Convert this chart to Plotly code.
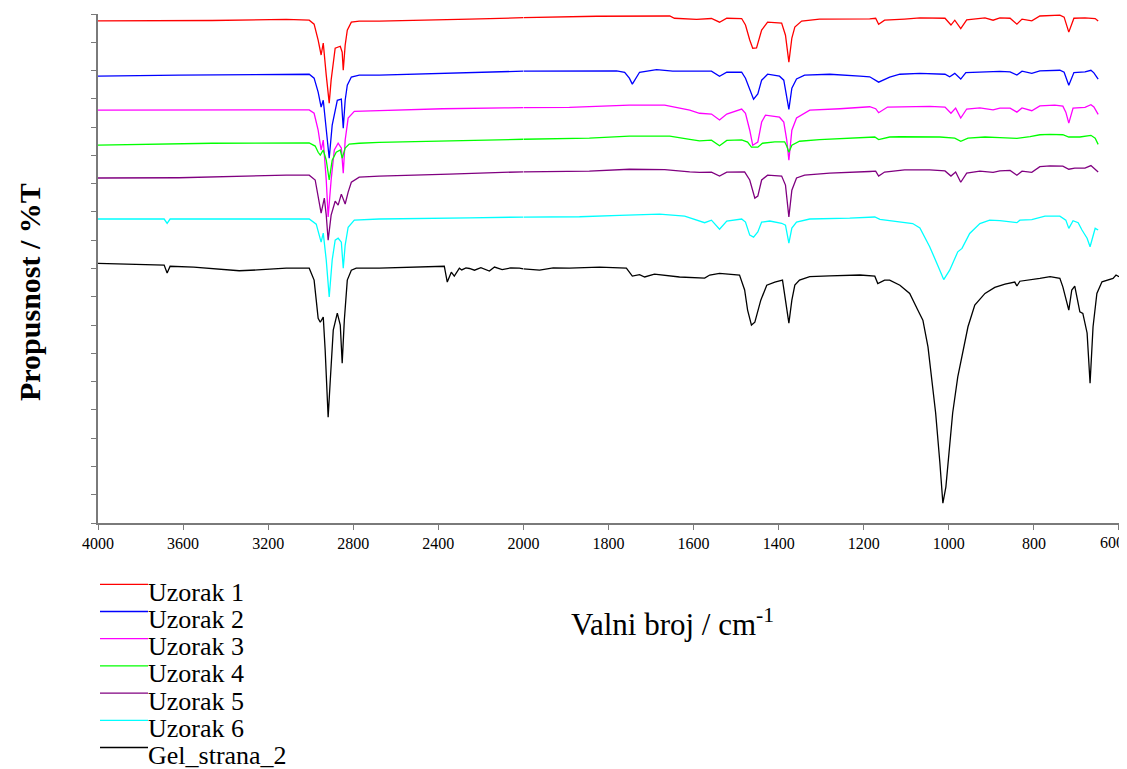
import plotly.graph_objects as go

# ---------------- data (wavenumber cm^-1, offset transmittance) ----------------
names = ["Uzorak 1", "Uzorak 2", "Uzorak 3", "Uzorak 4", "Uzorak 5", "Uzorak 6", "Gel_strana_2"]
colors = ["#FF0000", "#0000FF", "#FF00FF", "#00FF00", "#800080", "#00FFFF", "#000000"]

uzorak_1 = [(4000,177.6),(3619,177.7),(3464,177.7),(3115,178.1),(3007,177.8),(2984,176.4),(2965,170.8),(2951,165.5),(2941,169.7),(2927,158.4),(2913,148.5),(2904,156.6),(2885,167.9),(2861,168.6),(2852,166.5),(2847,160.1),(2838,169.0),(2828,174.3),(2809,177.1),(2772,177.5),(2678,177.5),(2254,178.2),(2000,178.7),(1828,179.2),(1656,179.3),(1645,178.5),(1593,178.1),(1558,178.4),(1539,177.1),(1522,178.5),(1487,178.4),(1478,176.1),(1468,170.8),(1461,167.9),(1452,168.0),(1449,169.7),(1440,174.3),(1426,177.1),(1393,176.8),(1384,172.5),(1376,163.0),(1369,171.5),(1362,175.4),(1346,177.5),(1304,178.2),(1186,178.3),(1172,178.5),(1165,176.4),(1151,177.8),(1104,178.2),(1068,178.6),(1009,178.5),(995,176.1),(986,177.8),(972,174.8),(958,177.9),(915,178.6),(896,177.8),(880,178.6),(856,178.5),(840,176.4),(828,178.2),(805,177.6),(786,179.3),(739,179.6),(729,178.9),(718,173.6),(706,178.5),(680,178.6),(656,178.4),(649,177.5)]

uzorak_2 = [(4000,158.0),(3619,158.4),(3007,158.7),(2984,157.3),(2965,152.4),(2951,147.1),(2941,149.5),(2927,138.9),(2913,129.0),(2899,140.7),(2875,149.5),(2856,149.9),(2847,139.6),(2838,149.5),(2828,154.8),(2809,157.7),(2772,158.4),(2678,158.4),(2113,159.5),(2000,159.8),(1908,159.9),(1781,159.9),(1762,159.4),(1751,157.3),(1744,155.2),(1736,157.3),(1727,159.4),(1687,160.3),(1649,159.8),(1558,159.8),(1539,158.0),(1522,159.4),(1487,159.4),(1478,157.3),(1468,153.1),(1459,149.9),(1449,151.7),(1440,156.6),(1426,158.7),(1398,158.0),(1388,156.6),(1381,151.3),(1376,146.3),(1369,153.8),(1358,157.0),(1339,158.4),(1280,158.7),(1209,158.0),(1186,157.8),(1165,155.9),(1139,157.7),(1115,158.7),(1068,159.0),(1009,158.7),(998,157.8),(986,159.0),(972,157.0),(960,159.3),(927,159.4),(896,159.4),(880,159.7),(856,159.5),(840,158.4),(828,159.8),(805,159.0),(786,159.9),(739,160.1),(729,159.4),(718,154.8),(706,159.3),(680,159.5),(666,160.1),(659,159.2),(649,157.0)]

uzorak_3 = [(4000,146.0),(3007,146.1),(2984,144.9),(2965,138.9),(2951,131.9),(2941,135.4),(2927,121.3),(2918,108.2),(2904,121.3),(2889,131.9),(2871,134.3),(2856,132.6),(2847,123.7),(2838,135.4),(2824,143.2),(2795,145.6),(2678,145.8),(2381,146.5),(2089,146.8),(2000,146.9),(1892,147.0),(1798,147.5),(1751,147.8),(1668,147.8),(1609,146.0),(1586,144.9),(1558,144.6),(1539,142.5),(1522,144.6),(1487,146.4),(1478,144.9),(1468,138.9),(1461,133.6),(1449,134.7),(1440,141.8),(1431,144.2),(1398,143.5),(1388,141.8),(1381,135.4),(1376,128.3),(1369,138.9),(1358,143.2),(1327,146.0),(1256,146.5),(1186,147.2),(1172,146.5),(1165,145.1),(1144,147.1),(1115,147.2),(1045,147.3),(1009,147.1),(995,144.9),(984,146.7),(972,143.2),(958,146.4),(927,146.8),(896,146.1),(880,146.7),(856,146.7),(840,145.3),(828,146.8),(805,145.8),(786,147.5),(751,147.8),(732,147.4),(725,145.3),(718,141.4),(708,146.7),(680,147.0),(666,147.9),(659,147.1),(649,144.5)]

uzorak_4 = [(4000,133.6),(3464,134.3),(3007,134.4),(2979,133.3),(2965,131.1),(2955,130.1),(2941,131.9),(2927,128.3),(2913,121.3),(2899,128.3),(2880,131.1),(2861,131.9),(2852,129.0),(2838,132.6),(2819,134.0),(2772,134.3),(2678,134.6),(2442,135.0),(2113,135.6),(2000,135.7),(1845,136.1),(1751,136.8),(1656,136.8),(1609,135.7),(1586,135.1),(1558,135.4),(1539,133.4),(1522,135.3),(1487,135.5),(1473,134.7),(1464,132.9),(1449,132.9),(1438,134.3),(1409,134.8),(1386,134.8),(1381,133.3),(1376,131.1),(1369,133.6),(1351,135.0),(1304,135.6),(1233,136.1),(1174,136.5),(1165,135.6),(1139,136.5),(1115,136.6),(1021,136.5),(986,136.1),(972,135.0),(955,136.1),(915,136.5),(880,136.3),(840,136.0),(809,136.6),(786,137.3),(762,137.4),(732,137.3),(718,136.5),(692,136.5),(666,137.1),(656,136.1),(649,133.9)]

uzorak_5 = [(4000,122.0),(3619,122.1),(3115,123.0),(3007,123.0),(2979,121.3),(2965,115.9),(2951,109.6),(2936,114.9),(2927,108.9),(2918,100.0),(2904,108.9),(2885,113.8),(2871,112.4),(2856,116.3),(2838,112.8),(2824,117.0),(2809,120.5),(2772,122.3),(2678,122.7),(2348,123.4),(2000,124.2),(1845,124.4),(1751,125.1),(1668,125.0),(1609,124.2),(1586,124.0),(1558,124.1),(1539,122.7),(1522,124.1),(1480,124.2),(1468,121.3),(1456,114.9),(1449,115.6),(1440,121.3),(1426,123.0),(1393,122.7),(1384,119.5),(1376,108.2),(1369,117.7),(1358,122.0),(1339,123.0),(1280,123.7),(1186,124.3),(1172,124.4),(1165,122.7),(1151,124.1),(1104,124.9),(1045,124.9),(1009,124.5),(995,122.7),(984,124.1),(972,120.5),(958,123.7),(927,124.4),(896,124.0),(880,124.5),(856,124.7),(840,123.0),(828,124.4),(805,124.0),(786,126.0),(762,126.3),(732,126.2),(718,125.1),(704,125.5),(680,125.5),(666,126.4),(659,125.5),(649,124.1)]

uzorak_6 = [(4000,107.5),(3689,107.5),(3675,106.0),(3661,107.5),(3007,107.5),(2974,105.7),(2960,101.8),(2951,99.3),(2941,102.5),(2927,93.0),(2913,79.9),(2899,93.0),(2885,100.0),(2871,100.7),(2856,99.3),(2847,90.1),(2838,98.3),(2824,104.6),(2795,107.1),(2678,107.5),(2254,107.9),(2000,108.2),(1868,108.3),(1774,108.8),(1680,109.2),(1621,108.5),(1586,106.8),(1574,106.2),(1558,107.1),(1539,103.9),(1522,106.8),(1487,107.5),(1478,106.4),(1468,101.8),(1459,101.1),(1449,102.9),(1440,106.4),(1421,106.8),(1393,106.0),(1384,105.3),(1376,99.0),(1369,104.3),(1358,106.4),(1327,107.5),(1233,107.8),(1174,108.2),(1162,107.4),(1115,106.5),(1085,105.9),(1068,104.3),(1045,97.7),(1028,91.8),(1012,86.1),(998,89.4),(979,95.9),(969,97.1),(951,102.4),(927,105.9),(904,107.1),(880,106.9),(840,106.2),(833,107.1),(805,107.3),(774,108.5),(739,108.5),(725,107.1),(718,104.2),(708,106.9),(696,106.2),(687,103.6),(675,100.7),(668,97.7),(661,101.8),(656,104.2),(649,103.6)]

gel_strana_2 = [(4000,91.8),(3807,91.5),(3689,91.2),(3675,88.4),(3661,90.8),(3550,90.5),(3464,90.0),(3400,89.6),(3336,89.2),(3250,89.5),(3170,89.9),(3115,90.1),(3007,90.1),(2984,85.9),(2974,78.8),(2965,72.4),(2955,71.0),(2941,72.8),(2932,61.1),(2918,37.4),(2908,50.5),(2894,68.2),(2875,74.2),(2861,70.0),(2852,56.5),(2842,71.7),(2828,85.9),(2809,89.4),(2786,90.1),(2678,90.1),(2372,90.8),(2358,85.2),(2339,88.7),(2325,87.3),(2301,90.1),(2290,89.5),(2270,90.2),(2254,90.0),(2230,89.4),(2200,90.3),(2160,89.1),(2136,90.5),(2100,89.6),(2060,90.2),(2019,90.1),(2000,89.9),(1962,89.4),(1930,90.2),(1892,90.1),(1821,90.5),(1758,90.1),(1744,87.3),(1727,87.8),(1715,87.0),(1692,88.0),(1633,87.0),(1574,86.6),(1562,87.7),(1539,88.3),(1492,87.7),(1480,82.4),(1473,75.3),(1464,70.0),(1456,71.0),(1449,75.3),(1442,78.8),(1428,84.1),(1409,85.2),(1391,85.9),(1384,78.8),(1376,70.7),(1369,78.8),(1362,84.1),(1351,85.9),(1327,87.1),(1280,87.4),(1209,87.7),(1174,87.3),(1167,84.7),(1151,85.9),(1139,85.9),(1115,84.1),(1092,81.2),(1073,75.3),(1061,71.7),(1049,62.3),(1040,50.5),(1031,38.9),(1021,21.2),(1014,7.0),(1007,12.7),(1000,24.7),(991,38.9),(979,51.7),(967,60.1),(955,69.4),(939,77.1),(915,81.2),(892,83.3),(868,84.5),(845,85.2),(840,83.8),(833,85.5),(809,85.9),(786,86.5),(762,87.1),(739,86.5),(732,83.5),(725,78.8),(718,75.3),(711,82.4),(704,83.8),(692,74.7),(685,74.1),(675,67.2),(668,49.4),(661,69.4),(652,81.2),(640,85.3),(626,85.9),(614,86.5),(607,87.7),(600,87.1)]

series = [uzorak_1, uzorak_2, uzorak_3, uzorak_4, uzorak_5, uzorak_6, gel_strana_2]

ticks_high = [4000, 3600, 3200, 2800, 2400]
ticks_low = [2000, 1800, 1600, 1400, 1200, 1000, 800, 600]
x_title = "Valni broj / cm<sup>-1</sup>"
y_title = "<b>Propusnost / %T</b>"

# ---------------- figure ----------------
SERIF = "Liberation Serif, Times New Roman, serif"
AXCOL = "#7a7a7a"
fig = go.Figure()

for name, col, data in zip(names, colors, series):
    hi = [p for p in data if p[0] >= 2000]
    lo = [p for p in data if p[0] <= 2000]
    for part, xa in ((hi, "x"), (lo, "x2")):
        fig.add_trace(go.Scatter(
            x=[p[0] for p in part], y=[p[1] for p in part],
            mode="lines", name=name, legendgroup=name, showlegend=False,
            line=dict(color=col, width=1.3), xaxis=xa, yaxis="y"))

split = 5 / 12
common_x = dict(showline=True, linecolor=AXCOL, linewidth=1.5, ticks="outside",
                ticklen=5, tickcolor=AXCOL, tickwidth=1.2, showgrid=False,
                zeroline=False, anchor="y", automargin=False,
                tickfont=dict(family=SERIF, size=16, color="black"))
# the last label (600) sits at the window edge: it is drawn separately, nudged left
low_text = [str(t) for t in ticks_low[:-1]] + [""]

# The page body has an 8px margin, so the figure is sized to the rest of the window.
fig.update_layout(
    width=1119, height=761,
    margin=dict(l=90, r=8, t=6, b=246),
    plot_bgcolor="white", paper_bgcolor="white", showlegend=False,
    xaxis=dict(domain=[0, split], range=[4000, 2000], tickmode="array",
               tickvals=ticks_high, ticktext=[str(t) for t in ticks_high], **common_x),
    xaxis2=dict(domain=[split, 1], range=[2000, 600], tickmode="array",
                tickvals=ticks_low, ticktext=low_text, **common_x),
    yaxis=dict(range=[0, 180], tick0=0, dtick=10, showticklabels=False,
               ticks="outside", ticklen=5, tickcolor=AXCOL, tickwidth=1.2,
               showline=True, linecolor=AXCOL, linewidth=1.5, showgrid=False,
               zeroline=False, anchor="x", automargin=False),
)

# positions below in window pixels, converted to paper coordinates
PLOT_L, PLOT_W, PLOT_B, PLOT_H = 98, 1021, 523, 509
def px_x(px):
    return (px - PLOT_L) / PLOT_W
def px_y(py):
    return (PLOT_B - py) / PLOT_H

fig.add_annotation(text=str(ticks_low[-1]), xref="paper", yref="paper",
                   x=px_x(1112), y=px_y(542), xanchor="center", yanchor="middle",
                   showarrow=False, font=dict(family=SERIF, size=16, color="black"))

# manual legend below the plot (line + label)
for i, (name, col) in enumerate(zip(names, colors)):
    ly = 584.3 + 27.2 * i
    fig.add_shape(type="line", xref="paper", yref="paper",
                  x0=px_x(100), x1=px_x(148), y0=px_y(ly), y1=px_y(ly),
                  line=dict(color=col, width=1.3))
    fig.add_annotation(text=name, xref="paper", yref="paper",
                       x=px_x(146), y=px_y(ly + 8), xanchor="left", yanchor="middle",
                       showarrow=False, font=dict(family=SERIF, size=26, color="black"))

fig.add_annotation(text=x_title, xref="paper", yref="paper",
                   x=px_x(672), y=px_y(622), xanchor="center", yanchor="middle",
                   showarrow=False, font=dict(family=SERIF, size=31, color="black"))
fig.add_annotation(text=y_title, xref="paper", yref="paper", textangle=-90,
                   x=px_x(29), y=px_y(292), xanchor="center", yanchor="middle",
                   showarrow=False, font=dict(family=SERIF, size=30, color="black"))

fig.write_html("out.html")
